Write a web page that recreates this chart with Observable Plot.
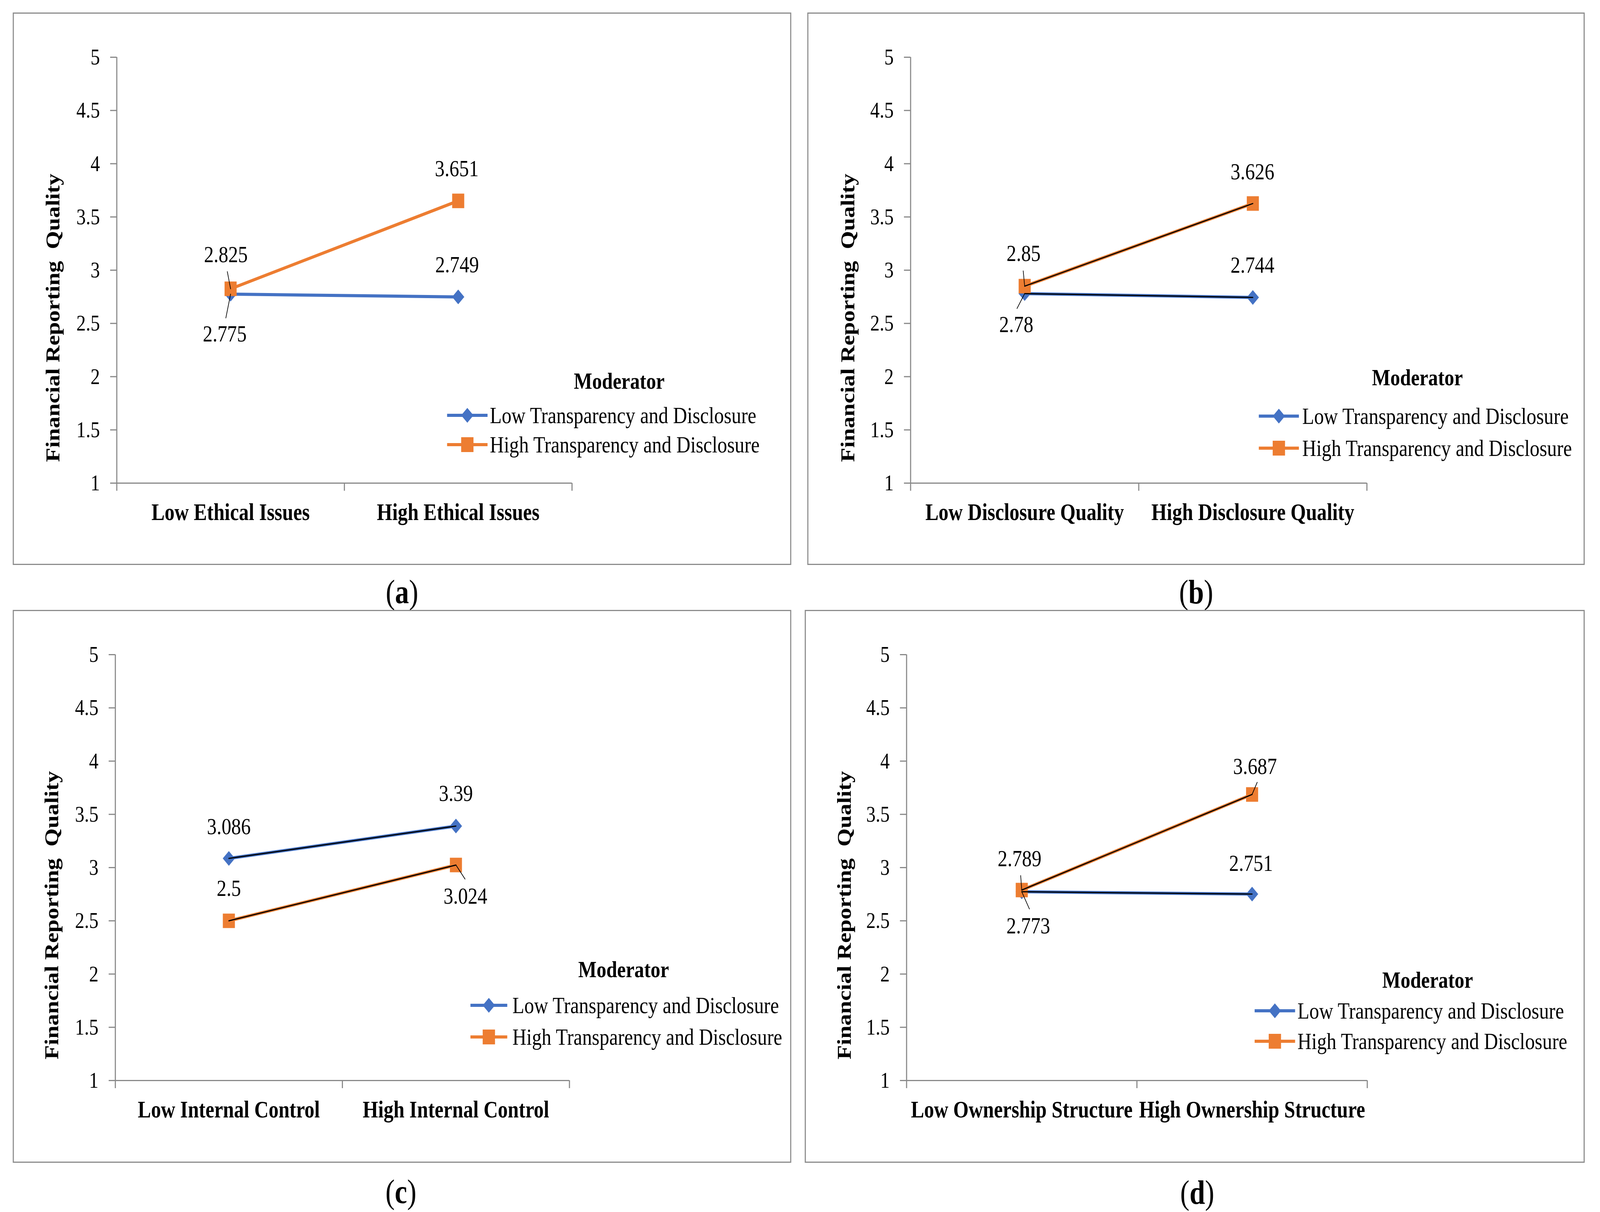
<!DOCTYPE html>
<html>
<head>
<meta charset="utf-8">
<script src="https://cdn.jsdelivr.net/npm/d3@7"></script>
<script src="https://cdn.jsdelivr.net/npm/@observablehq/plot@0.6"></script>
<style>
html, body { margin: 0; padding: 0; background: #fff; overflow: hidden; width: 100vw; height: 100vh; }
#viewport { position: relative; width: 100vw; height: 100vh; overflow: hidden; background: #fff; }
#page { position: absolute; left: 0; top: 0; width: 4390px; height: 3102px; background: #fff; overflow: hidden;
  transform-origin: 0 0;
  font-family: "Liberation Serif", "Times New Roman", serif; color: #000; }
.frame { position: absolute; box-sizing: border-box; border: 3px solid #8c8c8c; background: #fff; }
.squeeze { position: absolute; transform-origin: 0 0; }
.lg-title { position: absolute; font-weight: bold; font-size: 60px; line-height: 60px; white-space: nowrap; transform: translateX(-50%); }
.lg-text { position: absolute; font-size: 60px; line-height: 60px; white-space: nowrap; }
.lg-swatch { position: absolute; overflow: visible; }
.caption { position: absolute; font-size: 86px; line-height: 1; white-space: nowrap; transform: translate(-50%, -50%) scaleX(0.89); }
</style>
</head>
<body>
<div id="viewport"><div id="page"></div></div>
<script>
// ---------------- data ----------------
const seriesNames = ["Low Transparency and Disclosure", "High Transparency and Disclosure"];
const yTicks = [1, 1.5, 2, 2.5, 3, 3.5, 4, 4.5, 5];
const yTitle = "Financial Reporting  Quality";
const legendTitle = "Moderator";
const captionLetters = ["a", "b", "c", "d"];

const catsA = ["Low Ethical Issues", "High Ethical Issues"];
const lowA = [2.775, 2.749];
const highA = [2.825, 3.651];

const catsB = ["Low Disclosure Quality", "High Disclosure Quality"];
const lowB = [2.78, 2.744];
const highB = [2.85, 3.626];

const catsC = ["Low Internal Control", "High Internal Control"];
const lowC = [3.086, 3.39];
const highC = [2.5, 3.024];

const catsD = ["Low Ownership Structure", "High Ownership Structure"];
const lowD = [2.773, 2.751];
const highD = [2.789, 3.687];

// ---------------- layout / style ----------------
const PAGE_W = 4390, PAGE_H = 3102;
const K = 0.89;            // horizontal squeeze of the original figure
const BLUE = "#4472C4", ORANGE = "#ED7D31", AXIS = "#898989";
const Y_TOP = 114, Y_BOTTOM = 1204;

const panels = [
  { cats: catsA, low: lowA, high: highA, outline: false,
    frame: [35, 32, 2136, 1414], axisX: [285, 1534], titleX: 110,
    legend: { tx: 1664, tb: 963, r: [1031, 1106], l0: 1192, l1: 1303, t0: 1309 },
    caption: [1103, 1515],
    labels: { Low: [[-16, 102], [-3, -82]], High: [[-13, -87], [-4, -82]] },
    leaders: { Low: [[-13, 61], null], High: [[-9, -44], null] } },
  { cats: catsB, low: lowB, high: highB, outline: true,
    frame: [2215, 32, 2133, 1414], axisX: [283, 1535], titleX: 111,
    legend: { tx: 1674, tb: 954, r: [1033, 1115], l0: 1239, l1: 1349, t0: 1358 },
    caption: [3282, 1515],
    labels: { Low: [[-23, 79], [-1, -82]], High: [[-3, -84], [-1, -81]] },
    leaders: { Low: [[-21, 38], null], High: [[-4, -39], null] } },
  { cats: catsC, low: lowC, high: highC, outline: true,
    frame: [35, 1561, 2136, 1415], axisX: [281, 1527], titleX: 107,
    legend: { tx: 1676, tb: 940, r: [1012, 1093], l0: 1256, l1: 1357, t0: 1371 },
    caption: [1100, 3050],
    labels: { Low: [[0, -81], [0, -83]], High: [[0, -83], [26, 80]] },
    leaders: { Low: [null, null], High: [null, [25, 36]] } },
  { cats: catsD, low: lowD, high: highD, outline: true,
    frame: [2208, 1561, 2140, 1415], axisX: [279, 1543], titleX: 109,
    legend: { tx: 1709, tb: 967, r: [1026, 1104], l0: 1234, l1: 1345, t0: 1352 },
    caption: [3285, 3052],
    labels: { Low: [[18, 87], [-3, -79]], High: [[-6, -80], [8, -72]] },
    leaders: { Low: [[21, 44], null], High: [[-3, -37], [14, -31]] } }
];

const leaderShape = { draw(ctx, l) { ctx.moveTo(0, 0); ctx.lineTo(0, -l); } };
const page = document.getElementById("page");

function fitPage() {
  const sx = window.innerWidth / PAGE_W, sy = window.innerHeight / PAGE_H;
  page.style.transform = `scale(${sx}, ${sy})`;
}
fitPage();
window.addEventListener("resize", fitPage);

function el(tag, cls, parent) {
  const e = document.createElement(tag);
  if (cls) e.className = cls;
  parent.appendChild(e);
  return e;
}

panels.forEach((p, idx) => {
  const [fx, fy, fw, fh] = p.frame;
  const frame = el("div", "frame", page);
  Object.assign(frame.style, { left: fx + "px", top: fy + "px", width: fw + "px", height: fh + "px" });

  const W = Math.round(fw / K);
  const wrap = el("div", "squeeze", frame);
  Object.assign(wrap.style, { left: "-3px", top: "-3px", width: W + "px", height: fh + "px", transform: `scaleX(${K})` });

  const rows = p.cats.flatMap((c, i) => [
    { s: "Low", i, v: p.low[i] },
    { s: "High", i, v: p.high[i] }
  ]);
  const lowRows = rows.filter(r => r.s === "Low");
  const highRows = rows.filter(r => r.s === "High");

  const mL = p.axisX[0] / K, mR = W - p.axisX[1] / K;

  const marks = [
    Plot.ruleX([-0.5], { stroke: AXIS, strokeWidth: 3.4 }),
    Plot.ruleY([1], { stroke: AXIS, strokeWidth: 3 }),
    Plot.axisY({ ticks: yTicks, tickFormat: d => String(d), tickSize: 20, tickPadding: 32,
      stroke: AXIS, strokeWidth: 3, fill: "black", fontSize: 58, label: null }),
    Plot.axisX({ ticks: [-0.5, 0.5, 1.5], tickFormat: () => "", tickSize: 20,
      stroke: AXIS, strokeWidth: 3.4, label: null }),
    Plot.axisX({ ticks: [0, 1], tickFormat: i => p.cats[i], tickSize: 0, tickPadding: 51,
      fill: "black", fontSize: 61, fontWeight: "bold", label: null }),
    Plot.text([yTitle], { frameAnchor: "left", text: d => d, rotate: -90,
      textAnchor: "middle", lineAnchor: "middle",
      dx: p.titleX / K - mL, dy: 122, fontSize: 60, fontWeight: "bold", fill: "black" }),
    Plot.line(lowRows, { x: "i", y: "v", stroke: BLUE, strokeWidth: 8 }),
    Plot.dot(lowRows, { x: "i", y: "v", symbol: "diamond2", r: 17, fill: BLUE }),
    Plot.line(highRows, { x: "i", y: "v", stroke: ORANGE, strokeWidth: 8 }),
    Plot.dot(highRows, { x: "i", y: "v", symbol: "square", r: 21, fill: ORANGE })
  ];
  if (p.outline) {
    marks.push(Plot.line(lowRows, { x: "i", y: "v", stroke: "black", strokeWidth: 3 }));
    marks.push(Plot.line(highRows, { x: "i", y: "v", stroke: "black", strokeWidth: 3 }));
  }
  rows.forEach(r => {
    const ld = p.leaders[r.s][r.i];
    if (ld) {
      const vx = ld[0] / K, vy = ld[1];
      marks.push(Plot.vector([r], { x: "i", y: "v", anchor: "start", shape: leaderShape,
        length: Math.hypot(vx, vy), rotate: Math.atan2(vx, -vy) * 180 / Math.PI,
        stroke: "black", strokeWidth: 2 }));
    }
  });
  rows.forEach(r => {
    const off = p.labels[r.s][r.i];
    marks.push(Plot.text([r], { x: "i", y: "v", text: d => String(d.v),
      dx: off[0] / K, dy: off[1], fontSize: 60, fill: "black" }));
  });

  const svg = Plot.plot({
    width: W, height: fh,
    marginLeft: mL, marginRight: mR, marginTop: Y_TOP, marginBottom: fh - Y_BOTTOM,
    x: { domain: [-0.5, 1.5] },
    y: { domain: [1, 5] },
    style: { fontFamily: "'Liberation Serif', 'Times New Roman', serif", fontSize: "60px",
      color: "black", background: "none", overflow: "visible", maxWidth: "none" },
    marks
  });
  svg.style.position = "absolute";
  svg.style.left = "0px";
  svg.style.top = "0px";
  wrap.appendChild(svg);

  // legend
  const lg = p.legend;
  const t = el("div", "lg-title", wrap);
  t.textContent = legendTitle;
  Object.assign(t.style, { left: (lg.tx / K) + "px", top: (lg.tb - 50) + "px" });
  const swW = (lg.l1 - lg.l0) / K;
  [BLUE, ORANGE].forEach((col, j) => {
    const y = lg.r[j];
    const ns = "http://www.w3.org/2000/svg";
    const sw = document.createElementNS(ns, "svg");
    sw.setAttribute("class", "lg-swatch");
    sw.setAttribute("width", swW);
    sw.setAttribute("height", 50);
    Object.assign(sw.style, { left: (lg.l0 / K) + "px", top: (y - 25) + "px" });
    const ln = document.createElementNS(ns, "line");
    ln.setAttribute("x1", 0); ln.setAttribute("x2", swW);
    ln.setAttribute("y1", 25); ln.setAttribute("y2", 25);
    ln.setAttribute("stroke", col); ln.setAttribute("stroke-width", 8);
    sw.appendChild(ln);
    const c = swW / 2;
    if (j === 0) {
      const pg = document.createElementNS(ns, "polygon");
      pg.setAttribute("points", `${c},6 ${c + 19},25 ${c},44 ${c - 19},25`);
      pg.setAttribute("fill", col);
      sw.appendChild(pg);
    } else {
      const rc = document.createElementNS(ns, "rect");
      rc.setAttribute("x", c - 19); rc.setAttribute("y", 6);
      rc.setAttribute("width", 38); rc.setAttribute("height", 38);
      rc.setAttribute("fill", col);
      sw.appendChild(rc);
    }
    wrap.appendChild(sw);
    const tx = el("div", "lg-text", wrap);
    tx.textContent = seriesNames[j];
    Object.assign(tx.style, { left: (lg.t0 / K) + "px", top: (y - 30) + "px" });
  });

  // caption
  const cap = el("div", "caption", page);
  cap.innerHTML = "(<b>" + captionLetters[idx] + "</b>)";
  Object.assign(cap.style, { left: p.caption[0] + "px", top: p.caption[1] + "px" });
});
</script>
</body>
</html>
